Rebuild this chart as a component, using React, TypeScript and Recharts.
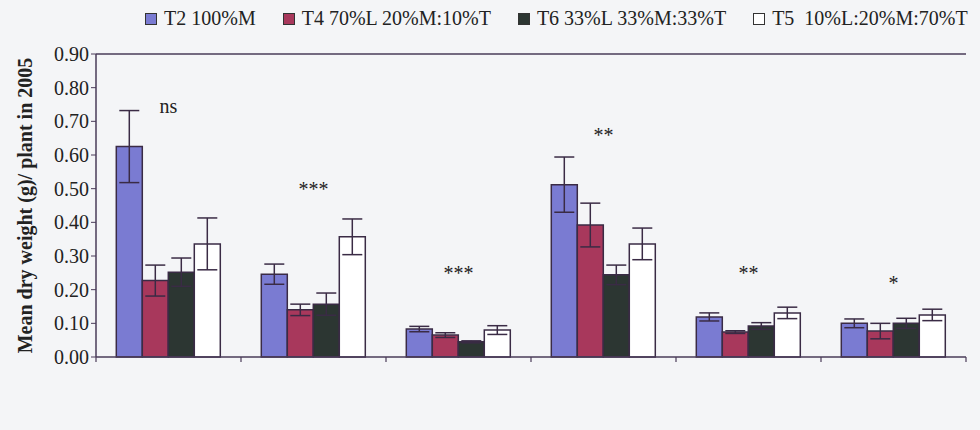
import React from 'react'
import {
  Bar,
  ComposedChart,
  ErrorBar,
  LabelList,
  Legend,
  Line,
  ReferenceLine,
  XAxis,
  YAxis
} from 'recharts'

const species = [
  'Aster azureus',
  'Phlox pilosa',
  'Phlox maculata',
  'Solidago speciosa',
  'Tradescantia ohioensis',
  'Zizia aptera'
]
const tickLines = [
  ['Aster azureus'],
  ['Phlox pilosa'],
  ['Phlox', 'maculata'],
  ['Solidago', 'speciosa'],
  ['Tradescantia', 'ohioensis'],
  ['Zizia aptera']
]
const t2 = [0.625, 0.246, 0.083, 0.512, 0.119, 0.1]
const t2Err = [0.107, 0.03, 0.008, 0.082, 0.012, 0.013]
const t4 = [0.227, 0.14, 0.065, 0.392, 0.074, 0.077]
const t4Err = [0.046, 0.017, 0.007, 0.065, 0.004, 0.023]
const t6 = [0.252, 0.157, 0.045, 0.244, 0.092, 0.1]
const t6Err = [0.042, 0.033, 0.003, 0.029, 0.01, 0.015]
const t5 = [0.336, 0.357, 0.08, 0.336, 0.131, 0.125]
const t5Err = [0.077, 0.053, 0.013, 0.047, 0.017, 0.017]
const sig = ['ns', '***', '***', '**', '**', '*']
const sigY = [0.745, 0.5, 0.25, 0.66, 0.25, 0.22]
const yTicks = [0, 0.1, 0.2, 0.3, 0.4, 0.5, 0.6, 0.7, 0.8, 0.9]
const edgeTicks = [0, 1, 2, 3, 4, 5, 6]

const data = species.map((name, i) => ({
  name,
  slot: i + 0.5, // middle of the category on the 0..6 edge axis
  t2: t2[i],
  t2Err: t2Err[i],
  t4: t4[i],
  t4Err: t4Err[i],
  t6: t6[i],
  t6Err: t6Err[i],
  t5: t5[i],
  t5Err: t5Err[i],
  sig: sig[i],
  sigY: sigY[i]
}))

const series = [
  { key: 't2', err: 't2Err', name: 'T2 100%M', color: '#7a7bd2' },
  { key: 't4', err: 't4Err', name: 'T4 70%L 20%M:10%T', color: '#a8385c' },
  { key: 't6', err: 't6Err', name: 'T6 33%L 33%M:33%T', color: '#2c3632' },
  { key: 't5', err: 't5Err', name: 'T5  10%L:20%M:70%T', color: '#ffffff' }
]

const font = '"Liberation Serif", "Times New Roman", Times, serif'
const ink = '#222222'
const axisColor = '#4a3b58'
const edge = '#3a2b45'

function SpeciesTick(props: any) {
  const { x, y, payload } = props
  const lines = tickLines[species.indexOf(payload.value)] || [payload.value]
  return (
    <text
      x={x}
      y={y}
      textAnchor="middle"
      style={{ fontFamily: font, fontStyle: 'italic', fontSize: 21 }}
      fill={ink}
    >
      {lines.map((l, i) => (
        <tspan key={l} x={x} dy={i === 0 ? 42 : 27}>
          {l}
        </tspan>
      ))}
    </text>
  )
}

// edge axis only shows its tick marks
function EmptyTick() {
  return <g />
}

function renderLegend() {
  return (
    <div
      style={{
        display: 'flex',
        gap: 27,
        fontFamily: font,
        fontSize: 20,
        color: ink
      }}
    >
      {series.map((s) => (
        <span
          key={s.key}
          style={{ display: 'flex', alignItems: 'center', whiteSpace: 'pre' }}
        >
          <span
            style={{
              display: 'inline-block',
              width: 10,
              height: 10,
              background: s.color,
              border: '1px solid #333',
              marginRight: 7
            }}
          />
          {s.name}
        </span>
      ))}
    </div>
  )
}

export default function App() {
  return (
    <div
      style={{
        position: 'absolute',
        left: 0,
        top: 0,
        width: 980,
        height: 430,
        background: '#f4f5f7',
        fontFamily: font
      }}
    >
      <ComposedChart
        width={980}
        height={430}
        data={data}
        barCategoryGap="14%"
        barGap={0}
        margin={{ top: 31, right: 14, bottom: 13, left: 30 }}
        style={{ fontFamily: font }}
      >
        <XAxis
          xAxisId="edges"
          type="number"
          dataKey="slot"
          domain={[0, 6]}
          ticks={edgeTicks}
          tick={EmptyTick}
          tickSize={5}
          tickLine={{ stroke: axisColor, strokeWidth: 1.2 }}
          axisLine={false}
          height={60}
        />
        <XAxis
          xAxisId="cat"
          dataKey="name"
          tick={<SpeciesTick />}
          tickLine={false}
          tickSize={0}
          tickMargin={0}
          axisLine={false}
          interval={0}
          height={0}
        />
        <YAxis
          yAxisId="left"
          domain={[0, 0.9]}
          ticks={yTicks}
          tickFormatter={(v: number) => v.toFixed(2)}
          tick={{ style: { fontFamily: font, fontSize: 20 }, fill: ink }}
          tickSize={5}
          tickLine={{ stroke: axisColor }}
          axisLine={{ stroke: axisColor, strokeWidth: 1.5 }}
          width={66}
          label={{
            value: 'Mean dry weight (g)/ plant in 2005',
            angle: -90,
            position: 'insideLeft',
            offset: -12,
            dx: 7,
            style: {
              fontFamily: font,
              fontSize: 20,
              fontWeight: 'bold',
              fill: ink,
              textAnchor: 'middle'
            }
          }}
        />
        <YAxis
          yAxisId="right"
          orientation="right"
          domain={[0, 0.9]}
          tick={false}
          tickLine={false}
          axisLine={{ stroke: axisColor, strokeWidth: 1.5 }}
          width={0}
        />
        <ReferenceLine
          xAxisId="cat"
          yAxisId="left"
          y={0.9}
          stroke={axisColor}
          strokeWidth={1.5}
        />
        <ReferenceLine
          xAxisId="cat"
          yAxisId="left"
          y={0}
          stroke={axisColor}
          strokeWidth={1.5}
        />
        <Legend
          verticalAlign="top"
          align="left"
          content={renderLegend}
          wrapperStyle={{ top: 7, left: 145 }}
        />
        {series.map((s) => (
          <Bar
            key={s.key}
            xAxisId="cat"
            yAxisId="left"
            dataKey={s.key}
            name={s.name}
            fill={s.color}
            stroke={edge}
            strokeWidth={1.5}
            isAnimationActive={false}
          >
            <ErrorBar
              dataKey={s.err}
              width={10}
              stroke={edge}
              strokeWidth={1.5}
            />
          </Bar>
        ))}
        <Line
          xAxisId="edges"
          yAxisId="left"
          dataKey="sigY"
          stroke="none"
          dot={false}
          activeDot={false}
          legendType="none"
          isAnimationActive={false}
        >
          <LabelList
            dataKey="sig"
            position="center"
            style={{ fontFamily: font, fontSize: 20 }}
            fill={ink}
          />
        </Line>
      </ComposedChart>
    </div>
  )
}
